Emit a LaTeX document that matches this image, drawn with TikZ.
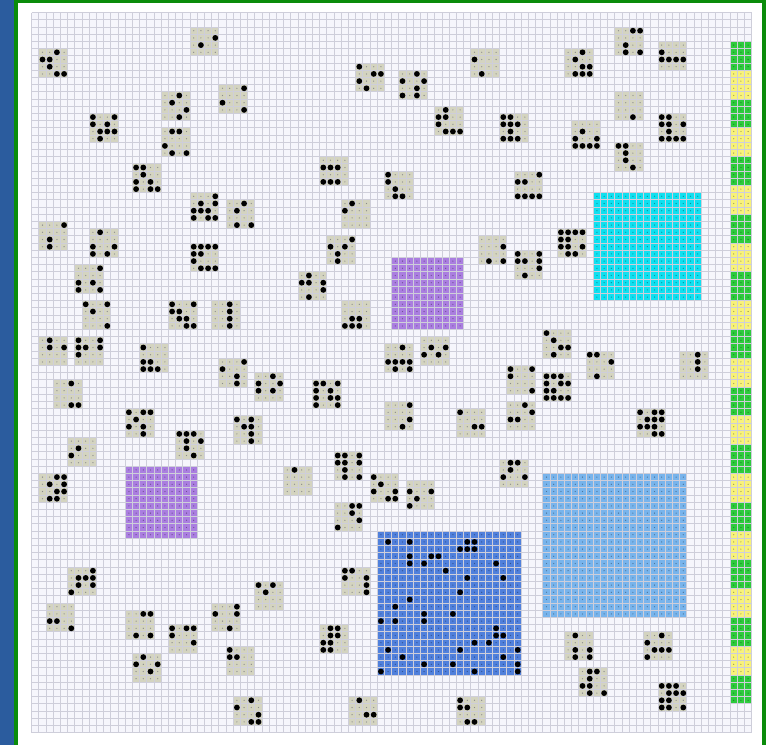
\documentclass[tikz,border=0pt]{standalone}
\usepackage{tikz}
\definecolor{bgblue}{RGB}{43,92,158}
\definecolor{framegreen}{RGB}{11,140,11}
\definecolor{cellbg}{RGB}{246,246,252}
\definecolor{gridc}{RGB}{206,206,218}
\definecolor{tilec}{RGB}{212,212,192}
\definecolor{purp}{RGB}{170,126,224}
\definecolor{cyanc}{RGB}{16,224,240}
\definecolor{blueb}{RGB}{80,128,220}
\definecolor{lblue}{RGB}{120,180,236}
\definecolor{greenc}{RGB}{45,203,60}
\definecolor{yellowc}{RGB}{248,242,122}
\newcommand\tilelist{%
\TL{1}{5}{0/2,1/0,1/1,2/1,3/2,3/3}
\TL{22}{2}{1/3,2/1}
\TL{26}{10}{0/3,2/0,3/3}
\TL{18}{11}{0/2,1/1,2/3,3/2}
\TL{8}{14}{0/0,0/3,1/0,1/2,2/1,2/2,2/3,3/1}
\TL{18}{16}{0/1,0/2,2/0,3/1,3/3}
\TL{14}{21}{0/0,0/1,1/1,2/0,2/2,3/0,3/2,3/3}
\TL{45}{7}{0/0,1/2,1/3,2/0,3/1}
\TL{51}{8}{0/2,1/0,1/3,2/2,3/0,3/2}
\TL{61}{5}{1/0,3/1}
\TL{56}{13}{0/1,1/0,1/1,2/0,3/1,3/2,3/3}
\TL{40}{20}{1/0,1/1,1/2,3/0,3/1,3/2}
\TL{49}{22}{0/0,1/0,2/1,3/1,3/2}
\TL{81}{2}{0/2,0/3,2/1,3/1,3/3}
\TL{87}{4}{1/0,2/0,2/1,2/2,2/3}
\TL{74}{5}{0/2,1/1,2/2,2/3,3/1,3/2,3/3}
\TL{81}{11}{3/2}
\TL{65}{14}{0/0,0/1,1/0,1/1,1/2,2/1,3/0,3/1,3/2}
\TL{75}{15}{1/1,2/0,2/3,3/0,3/1,3/2,3/3}
\TL{87}{14}{0/0,0/1,1/0,1/1,1/3,2/1,3/0,3/1,3/2,3/3}
\TL{81}{18}{0/0,0/1,1/1,2/1,3/2}
\TL{67}{22}{0/3,1/0,1/1,3/0,3/1,3/2,3/3}
\TL{22}{25}{0/3,1/1,1/3,2/0,2/1,2/2,3/0,3/2,3/3}
\TL{27}{26}{0/2,1/1,3/1,3/3}
\TL{1}{29}{0/3,2/1,3/1}
\TL{8}{30}{0/1,2/0,2/3,3/0,3/2}
\TL{22}{32}{0/0,0/1,0/2,0/3,1/0,1/1,2/0,3/1,3/2,3/3}
\TL{6}{35}{0/3,2/0,2/2,3/0,3/3}
\TL{7}{40}{0/0,0/3,1/1,3/3}
\TL{19}{40}{0/0,0/3,1/0,1/1,2/1,2/2,3/2,3/3}
\TL{25}{40}{0/2,1/2,2/2,3/2}
\TL{1}{45}{0/1,1/1,1/3}
\TL{6}{45}{0/0,0/3,1/0,1/1,1/3,2/0}
\TL{15}{46}{0/0,2/0,2/1,3/0,3/1,3/2}
\TL{26}{48}{0/3,1/0,2/2,3/2}
\TL{3}{51}{0/2,3/2,3/3}
\TL{43}{26}{0/1,1/0}
\TL{41}{31}{0/3,1/0,1/2,2/1,3/1}
\TL{62}{31}{1/3,3/1,3/3}
\TL{67}{33}{0/0,0/3,1/0,1/1,1/3,2/3,3/1}
\TL{37}{36}{0/1,1/0,1/1,1/3,2/3,3/1}
\TL{43}{40}{2/1,2/2,3/0,3/1,3/2}
\TL{49}{46}{0/2,2/0,2/1,2/2,2/3,3/1,3/3}
\TL{54}{45}{1/1,1/3,2/0,2/2}
\TL{66}{49}{0/0,0/3,1/0,3/3}
\TL{31}{50}{0/2,1/0,1/3,2/0,2/2}
\TL{39}{51}{0/0,0/1,0/3,1/0,1/2,2/0,2/2,2/3,3/0,3/3}
\TL{73}{30}{0/0,0/1,0/2,0/3,1/0,1/1,2/0,2/1,2/3,3/1,3/2}
\TL{71}{44}{0/0,1/1,2/2,2/3,3/1}
\TL{77}{47}{0/0,0/1,1/3,3/1}
\TL{90}{47}{0/2,1/2,2/2}
\TL{71}{50}{0/0,0/1,0/2,1/0,1/2,1/3,2/0,2/1,3/0,3/1,3/2,3/3}
\TL{84}{55}{0/0,0/2,0/3,1/1,1/2,1/3,2/0,2/1,2/2,3/2,3/3}
\TL{13}{55}{0/0,0/2,0/3,1/1,2/0,2/2,3/2}
\TL{28}{56}{0/0,0/2,1/1,1/2,2/2,3/2}
\TL{20}{58}{0/0,0/1,0/2,1/1,1/3,2/1,3/2}
\TL{5}{59}{1/1,2/0}
\TL{1}{64}{0/2,0/3,1/1,1/3,2/2,2/3,3/1,3/2}
\TL{5}{77}{0/3,1/1,1/2,1/3,2/1,2/3,3/0}
\TL{2}{82}{2/0,2/1,3/3}
\TL{13}{83}{0/2,0/3,3/1,3/3}
\TL{25}{82}{0/3,1/0,1/3,3/2}
\TL{19}{85}{0/0,0/2,0/3,1/0,2/3}
\TL{14}{89}{0/1,1/0,1/3,2/2}
\TL{27}{88}{0/0,1/0,1/1}
\TL{28}{95}{0/2,1/0,2/3,3/2,3/3}
\TL{49}{54}{0/3,2/3,3/2}
\TL{59}{55}{0/0,2/2,2/3}
\TL{66}{54}{0/2,1/3,2/0,2/1}
\TL{42}{61}{0/0,0/1,0/3,1/0,1/1,1/3,2/1,3/1,3/3}
\TL{35}{63}{0/1}
\TL{47}{64}{0/0,1/1,2/0,2/3,3/2,3/3}
\TL{52}{65}{1/0,1/3,2/1,3/0}
\TL{65}{62}{0/1,0/2,1/1,2/0,2/3}
\TL{42}{68}{0/2,0/3,1/2,2/3,3/0}
\TL{43}{77}{0/0,0/1,1/0,1/3,2/3,3/3}
\TL{31}{79}{0/0,0/2,1/1}
\TL{40}{85}{0/1,0/2,1/1,1/2,2/0,2/1,3/0,3/1}
\TL{44}{95}{0/1,2/2,2/3}
\TL{59}{95}{0/0,1/0,1/1,3/1,3/2}
\TL{74}{86}{0/1,2/1,2/3,3/1,3/3}
\TL{85}{86}{0/2,1/0,2/1,2/2,2/3,3/0}
\TL{76}{91}{0/1,0/2,1/1,2/0,2/1,3/1,3/3}
\TL{87}{93}{0/0,0/1,0/2,1/1,1/2,1/3,2/0,2/1,3/0,3/1,3/3}
}
\newcommand\blocklist{%
\BLK{50}{34}{10}{10}{purp}
\BLK{13}{63}{10}{10}{purp}
\BLK{78}{25}{15}{15}{cyanc}
\BLK{48}{72}{20}{20}{blueb}
\BLK{71}{64}{20}{20}{lblue}
\foreach \m in {0,...,11}{\BLK{97}{4+8*\m}{3}{4}{greenc}}
\foreach \m in {0,...,10}{\BLK{97}{8+8*\m}{3}{4}{yellowc}}
}
\begin{document}
\begin{tikzpicture}[x=1pt,y=-1pt,
  tdot/.style={fill=black!45},
  cdot/.style={fill=black,opacity=0.35},
  bdot/.style={fill=black},
  gridline/.style={draw=gridc,line width=0.9pt}]
\useasboundingbox (0,0) rectangle (766,745);
% background and frame
\fill[bgblue] (0,0) rectangle (766,745);
\fill[framegreen] (14,0) rectangle (766,745);
\fill[white] (17.5,3) rectangle (761.5,745);
\fill[cellbg] (31.7,12.7) rectangle ++(720,720);
% pass 1: fills
\def\TL#1#2#3{\fill[tilec] ({31.7+7.2*#1},{12.7+7.2*#2}) rectangle ++(28.8,28.8);}
\def\BLK#1#2#3#4#5{\fill[#5] ({31.7+7.2*(#1)},{12.7+7.2*(#2)}) rectangle ++({7.2*(#3)},{7.2*(#4)});}
\tilelist
\blocklist
% grid
\foreach \i in {0,...,100}{
  \draw[gridline] ({31.7+7.2*\i},12.7) -- ++(0,720);
  \draw[gridline] (31.7,{12.7+7.2*\i}) -- ++(720,0);
}
% pass 2: dots
\def\BLK#1#2#3#4#5{%
  \pgfmathtruncatemacro\wl{#3-1}\pgfmathtruncatemacro\hl{#4-1}%
  \foreach \i in {0,...,\wl}{\foreach \j in {0,...,\hl}{%
    \fill[cdot] ({35.3+7.2*(#1+\i)},{16.3+7.2*(#2+\j)}) circle (0.65pt);}}}
\blocklist
\def\TL#1#2#3{%
  \foreach \i in {0,...,3}{\foreach \j in {0,...,3}{%
    \fill[tdot] ({35.3+7.2*(#1+\i)},{16.3+7.2*(#2+\j)}) circle (0.65pt);}}%
  \foreach \r/\c in {#3}{\fill[bdot] ({35.3+7.2*(#1+\c)},{16.3+7.2*(#2+\r)}) circle (2.9pt);}}
\tilelist
% black cells inside the blue block
\foreach \k/\j in {1/1,4/1,12/1,13/1,11/2,12/2,13/2,4/3,7/3,8/3,4/4,6/4,16/4,9/5,12/6,17/6,11/8,4/9,2/10,6/11,10/11,0/12,2/12,6/12,16/13,16/14,17/14,13/15,15/15,1/16,11/16,19/16,3/17,17/17,6/18,10/18,19/18,0/19,13/19,19/19}{
  \fill[bdot] ({35.3+7.2*(48+\k)},{16.3+7.2*(72+\j)}) circle (2.9pt);}
\end{tikzpicture}
\end{document}
